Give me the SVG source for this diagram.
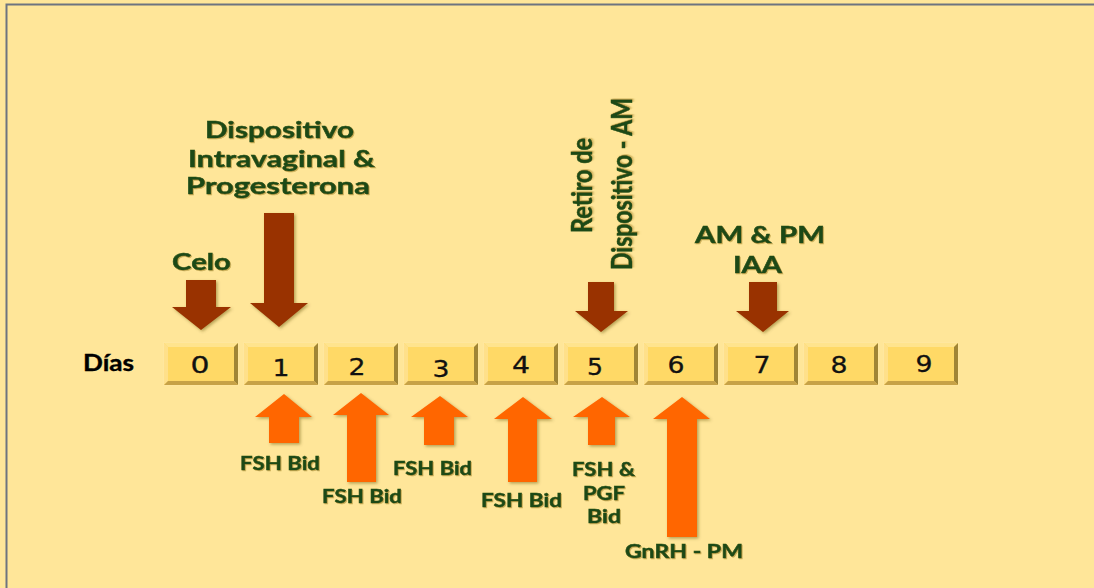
<svg xmlns="http://www.w3.org/2000/svg" width="1094" height="588" viewBox="0 0 1094 588">
  <style>
    .lbl { font-family: Lato, "Open Sans", "Liberation Sans", sans-serif; font-weight: 700; fill: #1d4a15; stroke: #1d4a15; stroke-width: 0.5; }
    .big { font-size: 23px; }
    .small { font-size: 18px; }
    .days { font-family: Lato, "Liberation Sans", sans-serif; font-weight: 700; font-size: 23px; fill: #000; stroke: #000; stroke-width: 0.4; }
    .num { font-family: "DejaVu Sans", sans-serif; font-size: 23px; fill: #111; stroke: #111; stroke-width: 0.3; text-anchor: middle; }
    .brown { fill: #993300; }
    .orange { fill: #ff6600; }
    .face { fill: #ffd966; }
    .bt { fill: #ffe48e; }
    .bl { fill: #ffe08a; }
    .br { fill: #a08536; }
    .bb { fill: #c7a247; }
    .rim { fill: none; stroke: #ffe79f; stroke-width: 1; }
  </style>
  <defs>
    <filter id="shadow" x="-20%" y="-20%" width="140%" height="140%">
      <feDropShadow dx="1.5" dy="1.5" stdDeviation="1.5" flood-color="#5a4a10" flood-opacity="0.45"/>
    </filter>
    <filter id="glow" x="-10%" y="-20%" width="120%" height="140%">
      <feDropShadow dx="1" dy="1" stdDeviation="0.7" flood-color="#a88a2a" flood-opacity="0.6"/>
    </filter>
    <!-- bevelled day box, 76 x 44 -->
    <g id="box">
      <rect class="face" x="0" y="0" width="76" height="44"/>
      <polygon class="bt" points="0,0 76,0 71,5 5,5"/>
      <polygon class="bl" points="0,0 5,5 5,39 0,44"/>
      <polygon class="br" points="76,0 76,44 71,39 71,5"/>
      <polygon class="bb" points="0,44 76,44 71,39 5,39"/>
      <rect class="rim" x="0.5" y="0.5" width="75" height="43"/>
    </g>
  </defs>

  <!-- background panel -->
  <rect x="0" y="0" width="1094" height="588" fill="#ffe699"/>
  <path d="M6.5,588 V4.5 H1094" fill="none" stroke="#6e7480" stroke-width="2"/>

  <!-- day scale -->
  <g id="dias-label">
    <text class="days" x="83" y="371" textLength="51" lengthAdjust="spacingAndGlyphs">Días</text>
  </g>
  <g id="day-0"><use href="#box" x="163" y="342"/><text class="num" x="200" y="373" textLength="19" lengthAdjust="spacingAndGlyphs">0</text></g>
  <g id="day-1"><use href="#box" x="243" y="342"/><text class="num" x="281" y="376" textLength="17" lengthAdjust="spacingAndGlyphs">1</text></g>
  <g id="day-2"><use href="#box" x="323" y="342"/><text class="num" x="357" y="375" textLength="17" lengthAdjust="spacingAndGlyphs">2</text></g>
  <g id="day-3"><use href="#box" x="403" y="342"/><text class="num" x="441" y="377" textLength="17" lengthAdjust="spacingAndGlyphs">3</text></g>
  <g id="day-4"><use href="#box" x="483" y="342"/><text class="num" x="521" y="373" textLength="18" lengthAdjust="spacingAndGlyphs">4</text></g>
  <g id="day-5"><use href="#box" x="563" y="342"/><text class="num" x="595" y="375" textLength="16" lengthAdjust="spacingAndGlyphs">5</text></g>
  <g id="day-6"><use href="#box" x="643" y="342"/><text class="num" x="676" y="373" textLength="17" lengthAdjust="spacingAndGlyphs">6</text></g>
  <g id="day-7"><use href="#box" x="723" y="342"/><text class="num" x="762" y="373" textLength="17" lengthAdjust="spacingAndGlyphs">7</text></g>
  <g id="day-8"><use href="#box" x="803" y="342"/><text class="num" x="839" y="373" textLength="17" lengthAdjust="spacingAndGlyphs">8</text></g>
  <g id="day-9"><use href="#box" x="883" y="342"/><text class="num" x="924" y="372" textLength="17" lengthAdjust="spacingAndGlyphs">9</text></g>

  <!-- events above the scale -->
  <g id="celo">
    <text class="lbl big" x="172" y="270" textLength="59" lengthAdjust="spacingAndGlyphs" filter="url(#glow)">Celo</text>
  </g>
  <g id="dispositivo">
    <text class="lbl big" x="205" y="138" textLength="149" lengthAdjust="spacingAndGlyphs" filter="url(#glow)">Dispositivo</text>
    <text class="lbl big" x="188" y="167" textLength="187" lengthAdjust="spacingAndGlyphs" filter="url(#glow)">Intravaginal &amp;</text>
    <text class="lbl big" x="186" y="194" textLength="184" lengthAdjust="spacingAndGlyphs" filter="url(#glow)">Progesterona</text>
  </g>
  <g id="retiro">
    <text class="lbl big" transform="translate(592,233) scale(1.2,1) rotate(-90)" textLength="95" lengthAdjust="spacingAndGlyphs" filter="url(#glow)">Retiro de</text>
    <text class="lbl big" transform="translate(632,270) scale(1.2,1) rotate(-90)" textLength="172" lengthAdjust="spacingAndGlyphs" filter="url(#glow)">Dispositivo - AM</text>
  </g>
  <g id="iaa">
    <text class="lbl big" x="695" y="243" textLength="130" lengthAdjust="spacingAndGlyphs" filter="url(#glow)">AM &amp; PM</text>
    <text class="lbl big" x="733" y="273" textLength="49" lengthAdjust="spacingAndGlyphs" filter="url(#glow)">IAA</text>
  </g>

  <!-- events below the scale -->
  <g id="fsh-1"><text class="lbl small" x="240" y="470" textLength="80" lengthAdjust="spacingAndGlyphs" filter="url(#glow)">FSH Bid</text></g>
  <g id="fsh-2"><text class="lbl small" x="322" y="503" textLength="80" lengthAdjust="spacingAndGlyphs" filter="url(#glow)">FSH Bid</text></g>
  <g id="fsh-3"><text class="lbl small" x="393" y="475" textLength="79" lengthAdjust="spacingAndGlyphs" filter="url(#glow)">FSH Bid</text></g>
  <g id="fsh-4"><text class="lbl small" x="481" y="507" textLength="81" lengthAdjust="spacingAndGlyphs" filter="url(#glow)">FSH Bid</text></g>
  <g id="fsh-pgf-5">
    <text class="lbl small" x="572" y="476" textLength="63" lengthAdjust="spacingAndGlyphs" filter="url(#glow)">FSH &amp;</text>
    <text class="lbl small" x="583" y="500" textLength="42" lengthAdjust="spacingAndGlyphs" filter="url(#glow)">PGF</text>
    <text class="lbl small" x="587" y="523" textLength="34" lengthAdjust="spacingAndGlyphs" filter="url(#glow)">Bid</text>
  </g>
  <g id="gnrh-6"><text class="lbl small" x="625" y="558" textLength="118" lengthAdjust="spacingAndGlyphs" filter="url(#glow)">GnRH - PM</text></g>

  <!-- connectors: block arrows pointing at the days -->
  <g id="arrows" filter="url(#shadow)">
    <polygon class="brown" points="186,280 216,280 216,307 231,307 201,330 172,307 186,307"/>
    <polygon class="brown" points="264,213 294,213 294,303 308,303 279,327 250,303 264,303"/>
    <polygon class="brown" points="588,282 614,282 614,311 628,311 601,332 575,311 588,311"/>
    <polygon class="brown" points="749,282 777,282 777,311 789,311 763,332 736,311 749,311"/>

    <polygon class="orange" points="269,443 299,443 299,417 312,417 284,394 255,417 269,417"/>
    <polygon class="orange" points="347,482 376,482 376,415 389,415 361,393 333,415 347,415"/>
    <polygon class="orange" points="424,445 454,445 454,417 468,417 440,396 411,417 424,417"/>
    <polygon class="orange" points="508,482 537,482 537,419 552,419 523,397 494,419 508,419"/>
    <polygon class="orange" points="588,445 615,445 615,417 630,417 602,397 573,417 588,417"/>
    <polygon class="orange" points="667,537 697,537 697,419 710,419 682,397 653,419 667,419"/>
  </g>
</svg>
